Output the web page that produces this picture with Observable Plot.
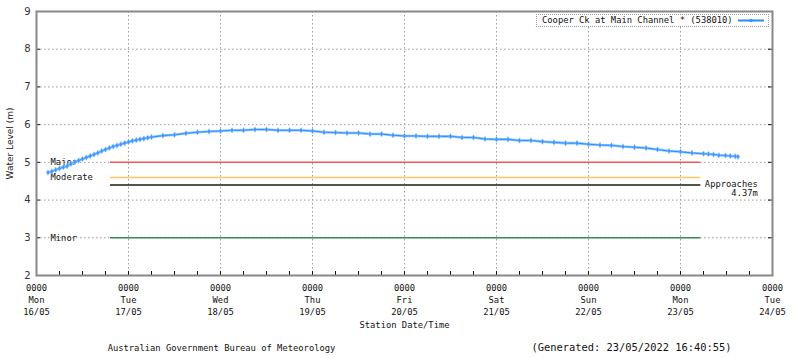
<!DOCTYPE html>
<html>
<head>
<meta charset="utf-8">
<script src="https://cdn.jsdelivr.net/npm/d3@7"></script>
<script src="https://cdn.jsdelivr.net/npm/@observablehq/plot@0.6"></script>
<style>
  html, body { margin: 0; padding: 0; background: #fff; }
  #wrap { position: relative; width: 800px; height: 358px; }
  #legend { position: absolute; left: 536px; top: 14px; width: 231px; height: 11px;
    border: 1px dotted #9a9a9a; font: 8.8px "DejaVu Sans Mono", monospace; color: #111;
    line-height: 11px; background: #fff; }
  #legend span { position: absolute; left: 5px; top: 0; white-space: pre; }
  #legend svg { position: absolute; left: 200px; top: 0; }
</style>
</head>
<body>
<div id="wrap"></div>
<script>
// ---- data ----
const seriesName = "Cooper Ck at Main Channel * (538010)";
const startDate = Date.UTC(2022, 4, 16);           // 16/05/2022 00:00
const obsHours = [
  3,4,5,6,7,8,9,10,11,12,13,14,15,16,17,18,19,20,21,22,23,24,25,26,27,28,29,30,
  33,36,39,42,45,48,51,54,57,60,63,66,69,72,75,78,81,84,87,90,93,96,99,102,105,108,
  111,114,117,120,123,126,129,132,135,138,141,144,147,150,153,156,159,162,165,168,171,
  174,175.3,176.6,178,179.7,181,182.3,183
];
const obsLevels = [
  4.73,4.76,4.80,4.84,4.87,4.90,4.96,5.01,5.05,5.09,5.13,5.17,5.21,5.25,5.30,5.34,5.38,5.42,
  5.45,5.48,5.51,5.54,5.57,5.59,5.61,5.63,5.65,5.67,
  5.71,5.73,5.77,5.80,5.82,5.83,5.85,5.85,5.87,5.87,5.85,5.85,5.85,5.83,5.80,5.79,5.78,5.78,
  5.75,5.75,5.72,5.70,5.70,5.69,5.69,5.69,5.66,5.66,5.62,5.61,5.61,5.58,5.58,5.55,5.53,5.51,
  5.51,5.48,5.46,5.45,5.42,5.40,5.38,5.34,5.30,5.28,5.25,
  5.23,5.22,5.21,5.19,5.18,5.17,5.16,5.15
];
const thresholdNames  = ["Major", "Moderate", "Approaches", "Minor"];
const thresholdLevels = [5.0, 4.6, 4.4, 3.0];
const thresholdColors = ["#f25a5a", "#ffc766", "#1a1a1a", "#3d8a58"];
const thresholdStartHour = 19.3;
const thresholdEndHour = 173.3;
const approachLabel = "Approaches\n4.37m";
const dayNames  = ["Mon","Tue","Wed","Thu","Fri","Sat","Sun","Mon","Tue"];
const dayDates  = ["16/05","17/05","18/05","19/05","20/05","21/05","22/05","23/05","24/05"];
const dayTimes  = ["0000","0000","0000","0000","0000","0000","0000","0000","0000"];
const yTicks = [2,3,4,5,6,7,8,9];
const yLabel = "Water Level (m)";
const xLabel = "Station Date/Time";
const footerLeft = "Australian Government Bureau of Meteorology";
const footerRight = "(Generated: 23/05/2022 16:40:55)";

// ---- build ----
const H = 3600e3;
const obs = obsHours.map((h, i) => ({date: new Date(startDate + h * H), level: obsLevels[i]}));
const thresholds = thresholdNames.map((n, i) => ({name: n, level: thresholdLevels[i], color: thresholdColors[i]}));
const days = dayNames.map((d, i) => new Date(startDate + i * 24 * H));
const sixHours = d3.range(0, 8 * 24 + 1, 6).map(h => new Date(startDate + h * H));
const t0 = new Date(startDate + thresholdStartHour * H);
const t1 = new Date(startDate + thresholdEndHour * H);

const W = 800, HT = 358, mL = 36, mR = 28, mT = 11, mB = 83;
const pw = W - mL - mR, ph = HT - mT - mB;
const mono = "'DejaVu Sans Mono', monospace";
const dayLabel = d => {
  const i = Math.round((+d - startDate) / (24 * H));
  return `${dayTimes[i]}\n${dayNames[i]}\n${dayDates[i]}`;
};

const chart = Plot.plot({
  width: W, height: HT,
  marginLeft: mL, marginRight: mR, marginTop: mT, marginBottom: mB,
  style: {background: "#fff", overflow: "visible"},
  x: {type: "utc", domain: [days[0], days[days.length - 1]]},
  y: {domain: [2, 9]},
  marks: [
    Plot.gridY(yTicks.slice(1, -1), {stroke: "#9a9a9a", strokeOpacity: 1, strokeDasharray: "1.5,2.5"}),
    Plot.gridX(days.slice(1, -1), {stroke: "#9a9a9a", strokeOpacity: 1, strokeDasharray: "1.5,2.5"}),
    Plot.ruleY(thresholds, {y: "level", x1: t0, x2: t1, stroke: "color", strokeWidth: 1.5}),
    Plot.text(thresholds.filter(d => d.name !== "Approaches"), {
      y: "level", text: "name", frameAnchor: "left", dx: 14, textAnchor: "start",
      fontFamily: mono, fontSize: 8.8, fill: "#111"
    }),
    Plot.text(thresholds.filter(d => d.name === "Approaches"), {
      y: "level", x: t1, text: () => approachLabel, textAnchor: "end", lineAnchor: "top",
      dx: 57, dy: -4, lineHeight: 1.0, fontFamily: mono, fontSize: 8.8, fill: "#111"
    }),
    Plot.line(obs, {x: "date", y: "level", stroke: "#8ec5ff", strokeWidth: 2.6}),
    Plot.line(obs, {x: "date", y: "level", stroke: "#2a8cff", strokeWidth: 1}),
    Plot.dot(obs, {x: "date", y: "level", symbol: "diamond", r: 1.7, fill: "#3b95ff", stroke: "#8ec5ff", strokeWidth: 0.5}),
    // inward ticks
    Plot.ruleY(yTicks, {y: d => d, insetRight: pw - 4, stroke: "#111"}),
    Plot.ruleY(yTicks, {y: d => d, insetLeft: pw - 4, stroke: "#111"}),
    Plot.ruleX(sixHours, {x: d => d, insetTop: ph - 4, stroke: "#111"}),
    Plot.frame({stroke: "#888", strokeWidth: 2}),
    Plot.axisY(yTicks, {tickSize: 0, tickPadding: 6, fontFamily: "'DejaVu Sans', sans-serif", fontSize: 10, color: "#333", label: null}),
    Plot.axisX(days, {tickSize: 0, tickPadding: 7, tickFormat: dayLabel, fontFamily: mono, fontSize: 8.8,
      lineHeight: 1.36, color: "#111", label: null}),
    Plot.text([yLabel], {frameAnchor: "left", textAnchor: "middle", dx: -26, dy: 0, rotate: -90, fontFamily: "'DejaVu Sans', sans-serif", fontSize: 9, fill: "#222"}),
    Plot.text([xLabel], {frameAnchor: "bottom", dx: 0, dy: 52, fontFamily: mono, fontSize: 8.8, fill: "#111"}),
    Plot.text([footerLeft], {frameAnchor: "bottom-left", textAnchor: "middle", dx: 185, dy: 75, fontFamily: mono, fontSize: 8.8, fill: "#111"}),
    Plot.text([footerRight], {frameAnchor: "bottom-left", textAnchor: "middle", dx: 595, dy: 75, fontFamily: mono, fontSize: 10.4, fill: "#111"})
  ]
});
const wrap = document.getElementById("wrap");
wrap.appendChild(chart);
const leg = document.createElement("div");
leg.id = "legend";
leg.innerHTML = `<span></span><svg width="28" height="11"><line x1="1" y1="5.5" x2="27" y2="5.5" stroke="#8ec5ff" stroke-width="3"/><line x1="1" y1="5.5" x2="27" y2="5.5" stroke="#2a8cff" stroke-width="1"/><circle cx="14" cy="5.5" r="1.8" fill="#3b95ff"/></svg>`;
leg.querySelector("span").textContent = seriesName;
wrap.appendChild(leg);
</script>
</body>
</html>
